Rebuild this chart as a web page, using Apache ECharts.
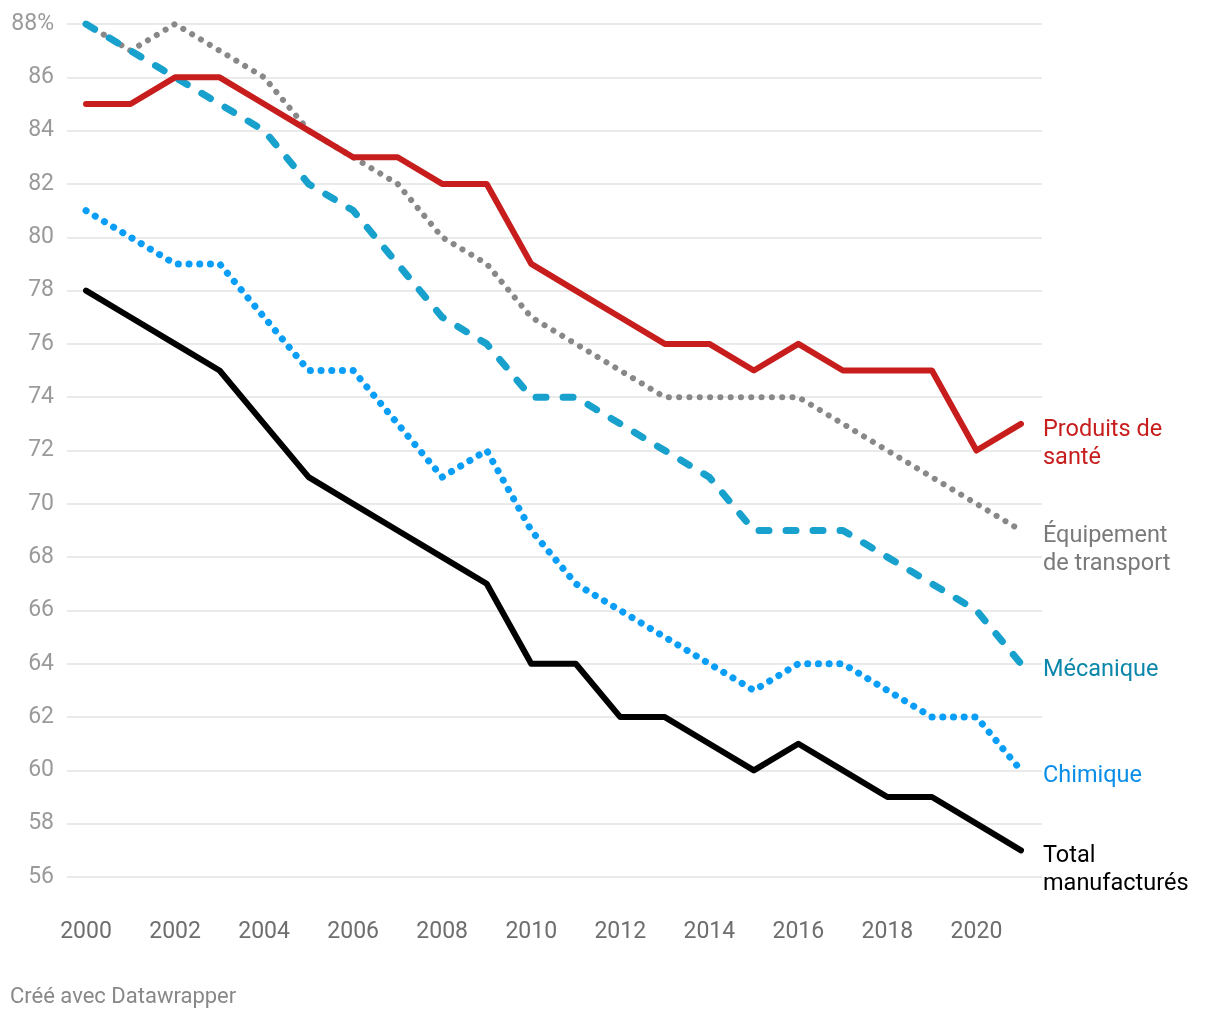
<!DOCTYPE html>
<html>
<head>
<meta charset="utf-8">
<script src="https://cdn.jsdelivr.net/npm/echarts@6/dist/echarts.min.js"></script>
<style>
html,body{margin:0;padding:0;background:#fff;}
#chart{width:1220px;height:1020px;}
</style>
</head>
<body>
<div id="chart"></div>
<script>
const years = [2000,2001,2002,2003,2004,2005,2006,2007,2008,2009,2010,2011,2012,2013,2014,2015,2016,2017,2018,2019,2020,2021];
const xTickLabels = [2000,2002,2004,2006,2008,2010,2012,2014,2016,2018,2020];
const yTickMin = 56, yTickMax = 88, yTickStep = 2;

const produitsSante = [85,85,86,86,85,84,83,83,82,82,79,78,77,76,76,75,76,75,75,75,72,73];
const equipementTransport = [88,87,88,87,86,84,83,82,80,79,77,76,75,74,74,74,74,73,72,71,70,69];
const mecanique = [88,87,86,85,84,82,81,79,77,76,74,74,73,72,71,69,69,69,68,67,66,64];
const chimique = [81,80,79,79,77,75,75,73,71,72,69,67,66,65,64,63,64,64,63,62,62,60];
const totalManufactures = [78,77,76,75,73,71,70,69,68,67,64,64,62,62,61,60,61,60,59,59,58,57];

const seriesNames = ['Équipement de transport','Mécanique','Chimique','Total manufacturés','Produits de santé'];
const endLabelTexts = ['Équipement\nde transport','Mécanique','Chimique','Total\nmanufacturés','Produits de\nsanté'];
const seriesValues = [equipementTransport, mecanique, chimique, totalManufactures, produitsSante];

const lineColors = ['#888888','#18a1cd','#0a9ef7','#000000','#c71e1d'];
const labelColors = ['#7a7a7a','#0b87ab','#0a8ee8','#000000','#c71e1d'];
const lineWidths = [6,7,7,6,6];
const lineTypes = [[0.1,10.2],[10,17],[0.1,10.6],'solid','solid'];

const pair = arr => arr.map((v,i) => [years[i], v]);

const chart = echarts.init(document.getElementById('chart'));
const series = seriesValues.map((vals, k) => ({
  name: seriesNames[k],
  type: 'line',
  data: pair(vals),
  symbol: 'none',
  silent: true,
  animation: false,
  lineStyle: {
    color: lineColors[k],
    width: lineWidths[k],
    type: lineTypes[k],
    cap: 'round',
    join: 'round'
  },
  endLabel: {
    show: true,
    formatter: () => endLabelTexts[k],
    color: labelColors[k],
    fontFamily: 'Roboto',
    fontSize: 23.5,
    lineHeight: 28,
    align: 'left',
    verticalAlign: 'top',
    distance: 22,
    offset: [0, -8]
  }
}));

chart.setOption({
  animation: false,
  backgroundColor: '#ffffff',
  textStyle: { fontFamily: 'Roboto' },
  grid: { left: 67, right: 178, top: 24, bottom: 143 },
  xAxis: {
    type: 'value',
    min: 1999.573,
    max: 2021.472,
    axisLine: { show: false },
    axisTick: { show: false },
    splitLine: { show: false },
    axisLabel: {
      customValues: xTickLabels,
      formatter: v => String(v),
      color: '#6e6e6e',
      fontFamily: 'Roboto',
      fontSize: 23,
      margin: 44
    }
  },
  yAxis: {
    type: 'value',
    min: yTickMin,
    max: yTickMax,
    interval: yTickStep,
    axisLine: { show: false },
    axisTick: { show: false },
    splitLine: { lineStyle: { color: '#e3e3e3', width: 1.5 } },
    axisLabel: {
      formatter: v => v === yTickMax ? v + '%' : String(v),
      color: '#9a9a9a',
      fontFamily: 'Roboto',
      fontSize: 23,
      margin: 13
    }
  },
  graphic: [{
    type: 'text',
    left: 10,
    top: 986,
    style: { text: 'Créé avec Datawrapper', fill: '#888888', font: '22px Roboto' }
  }],
  series: series
});
</script>
</body>
</html>
